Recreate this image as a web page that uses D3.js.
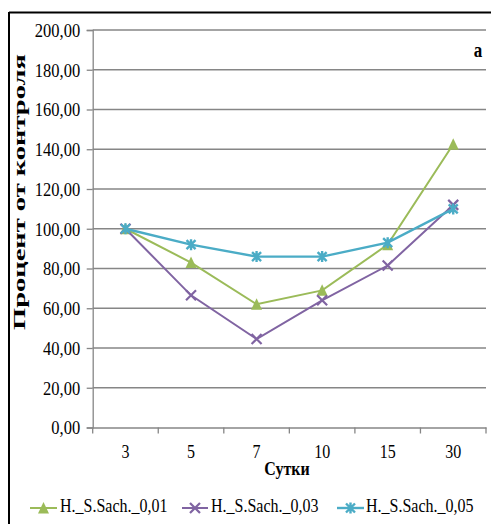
<!DOCTYPE html>
<html>
<head>
<meta charset="utf-8">
<script src="https://cdn.jsdelivr.net/npm/d3@7"></script>
<style>
  html, body { margin: 0; padding: 0; background: #fff; }
  svg { display: block; }
  text { font-family: "Liberation Serif", "Times New Roman", serif; fill: #000; }
</style>
</head>
<body>
<svg id="chart" width="491" height="524"></svg>
<script>
// Days of observation
const days = ["3", "5", "7", "10", "15", "30"];
// Percent of control for each treatment
const sach001 = [100, 83, 62, 69, 92, 142.5];
const sach003 = [100, 66.5, 44.5, 64, 81.5, 112];
const sach005 = [100, 92, 86, 86, 93, 110];
const seriesNames = ["H._S.Sach._0,01", "H._S.Sach._0,03", "H._S.Sach._0,05"];
const yTicks = [0, 20, 40, 60, 80, 100, 120, 140, 160, 180, 200];

const series = [
  { name: seriesNames[0], values: sach001, color: "#9BBB59", marker: "triangle", width: 2 },
  { name: seriesNames[1], values: sach003, color: "#8064A2", marker: "cross", width: 2 },
  { name: seriesNames[2], values: sach005, color: "#4BACC6", marker: "star", width: 2.4 }
];

const svg = d3.select("#chart");
const plot = { left: 92.7, right: 486, top: 30, bottom: 427.5 };
const stretch = 1.2;   // glyphs are set slightly taller than wide

const x = d3.scaleBand().domain(days).range([plot.left, plot.right]).paddingInner(0).paddingOuter(0);
const xEdge = d3.scaleLinear().domain([0, days.length]).range([plot.left, plot.right]);
const y = d3.scaleLinear().domain([0, 200]).range([plot.bottom, plot.top]);
const cx = d => x(d) + x.bandwidth() / 2;

// frame
svg.append("line").attr("x1", 9).attr("x2", 491).attr("y1", 12.5).attr("y2", 12.5)
  .attr("stroke", "#000").attr("stroke-width", 2);
svg.append("line").attr("x1", 9).attr("x2", 9).attr("y1", 12).attr("y2", 524)
  .attr("stroke", "#000").attr("stroke-width", 2);

// horizontal gridlines
svg.append("g").selectAll("line").data(yTicks.filter(v => v > 0)).join("line")
  .attr("x1", plot.left).attr("x2", plot.right)
  .attr("y1", d => y(d)).attr("y2", d => y(d))
  .attr("stroke", "#868686").attr("stroke-width", 1.3);

// y axis
const yAxis = svg.append("g").attr("transform", `translate(${plot.left},0)`)
  .call(d3.axisLeft(y).tickValues(yTicks).tickSize(6).tickPadding(6.5)
    .tickFormat(d => d.toFixed(2).replace(".", ",")));
yAxis.select(".domain").attr("stroke", "#868686").attr("stroke-width", 1.3);
yAxis.selectAll(".tick line").attr("stroke", "#868686").attr("stroke-width", 1.3);
yAxis.selectAll(".tick text")
  .attr("font-family", "Liberation Serif").attr("font-size", 16.5).attr("fill", "#000")
  .attr("transform", `scale(1,${stretch})`);

// x axis
const xAxis = svg.append("g").attr("transform", `translate(0,${plot.bottom})`)
  .call(d3.axisBottom(x).tickSize(0).tickPadding(0));
xAxis.select(".domain").attr("stroke", "#868686").attr("stroke-width", 1.3);
xAxis.selectAll(".tick text")
  .attr("font-family", "Liberation Serif").attr("font-size", 16).attr("fill", "#000")
  .attr("dy", null).attr("y", 0)
  .attr("transform", `translate(0,26) scale(1,${stretch})`)
  .attr("dominant-baseline", "middle");
svg.append("g").selectAll("line").data(d3.range(days.length + 1)).join("line")
  .attr("x1", d => xEdge(d)).attr("x2", d => xEdge(d))
  .attr("y1", plot.bottom).attr("y2", plot.bottom + 6)
  .attr("stroke", "#868686").attr("stroke-width", 1.3);

// axis titles
svg.append("text")
  .attr("transform", `translate(287,471) scale(1,${stretch})`)
  .attr("text-anchor", "middle").attr("dominant-baseline", "middle")
  .attr("font-size", 16).attr("font-weight", "bold").text("Сутки");
svg.append("text")
  .attr("transform", `translate(21,192) rotate(-90)`)
  .attr("text-anchor", "middle").attr("dominant-baseline", "middle")
  .attr("textLength", 276).attr("lengthAdjust", "spacingAndGlyphs")
  .attr("font-size", 16.5).attr("font-weight", "bold").text("Процент от контроля");
svg.append("text")
  .attr("transform", `translate(478,52) scale(1,${stretch})`)
  .attr("text-anchor", "middle").attr("dominant-baseline", "middle")
  .attr("font-size", 17).attr("font-weight", "bold").text("a");

// markers
function drawMarker(g, type, color, px, py) {
  if (type === "triangle") {
    g.append("path")
      .attr("d", `M${px},${py - 6}L${px + 5.5},${py + 5.5}L${px - 5.5},${py + 5.5}Z`)
      .attr("fill", color);
  } else if (type === "cross") {
    g.append("path")
      .attr("d", `M${px - 5},${py - 5}L${px + 5},${py + 5}M${px - 5},${py + 5}L${px + 5},${py - 5}`)
      .attr("stroke", color).attr("stroke-width", 2.2).attr("fill", "none");
  } else {
    g.append("path")
      .attr("d", `M${px - 4.5},${py - 4.5}L${px + 4.5},${py + 4.5}M${px - 4.5},${py + 4.5}L${px + 4.5},${py - 4.5}M${px},${py - 5.5}L${px},${py + 5.5}`)
      .attr("stroke", color).attr("stroke-width", 2.4).attr("fill", "none");
  }
}

const line = d3.line().x((d, i) => cx(days[i])).y(d => y(d));
series.forEach(s => {
  const g = svg.append("g");
  g.append("path").datum(s.values).attr("d", line)
    .attr("fill", "none").attr("stroke", s.color).attr("stroke-width", s.width);
  s.values.forEach((v, i) => drawMarker(g, s.marker, s.color, cx(days[i]), y(v)));
});

// legend
const legendY = 508;
const legendItems = [
  { x0: 30, x1: 57, tx: 60 },
  { x0: 182, x1: 208, tx: 211 },
  { x0: 337, x1: 364, tx: 366 }
];
series.forEach((s, i) => {
  const it = legendItems[i];
  const g = svg.append("g");
  g.append("line").attr("x1", it.x0).attr("x2", it.x1).attr("y1", legendY).attr("y2", legendY)
    .attr("stroke", s.color).attr("stroke-width", s.width);
  drawMarker(g, s.marker, s.color, (it.x0 + it.x1) / 2, legendY);
  g.append("text")
    .attr("transform", `translate(${it.tx},${legendY}) scale(1,${stretch})`)
    .attr("dominant-baseline", "middle")
    .attr("font-size", 16).text(s.name);
});
</script>
</body>
</html>
